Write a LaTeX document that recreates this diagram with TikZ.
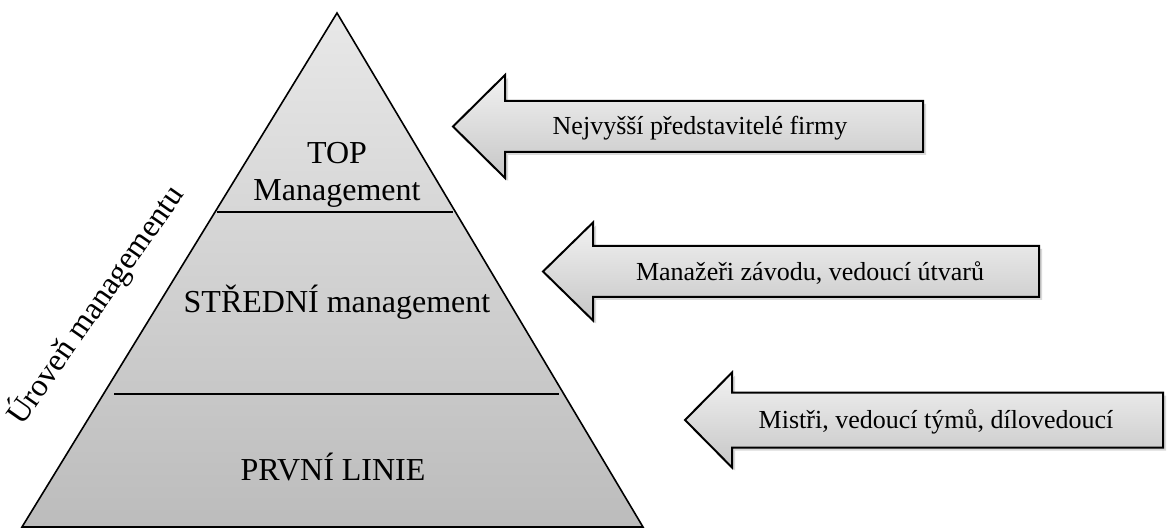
\documentclass[tikz,border=0pt]{standalone}
\usepackage{fontspec}
\setmainfont{Liberation Serif}
\usetikzlibrary{shadows}

\definecolor{pyrtop}{RGB}{232,232,232}
\definecolor{pyrbottom}{RGB}{188,188,188}
\definecolor{arrtop}{RGB}{242,242,242}
\definecolor{arrbottom}{RGB}{198,198,198}

\begin{document}
\begin{tikzpicture}[x=0.5pt, y=-0.5pt,
  level/.style={font=\fontsize{16}{18.5}\selectfont, align=center},
  pointer/.style={draw, line width=1pt, line join=miter, top color=arrtop, bottom color=arrbottom,
    drop shadow={shadow xshift=1.5pt, shadow yshift=-1.5pt, opacity=0.3}},
  pointertext/.style={font=\fontsize{13}{15}\selectfont, anchor=base}]

\useasboundingbox (0,0) rectangle (1167,529);

% Pyramid corners
\coordinate (apex) at (337, 13);
\coordinate (baseleft) at (22, 527);
\coordinate (baseright) at (643, 527);

\fill[top color=pyrtop, bottom color=pyrbottom] (apex) -- (baseleft) -- (baseright) -- cycle;
\draw[line width=0.8pt] (apex) -- (baseleft) -- (baseright) -- cycle;

% Level borders
\coordinate (topleft) at (217, 212);
\coordinate (topright) at (453, 212);
\coordinate (midleft) at (114, 394);
\coordinate (midright) at (559, 394);
\draw[line width=0.8pt] (topleft) -- (topright);
\draw[line width=0.8pt] (midleft) -- (midright);

% Level names
\node[level] (top) at (337, 175) {TOP\\Management};
\node[level] (middle) at (337, 302) {STŘEDNÍ management};
\node[level] (first) at (333, 467) {PRVNÍ LINIE};

% Axis label
\node[level, rotate=55] (axis) at (95, 305) {Úroveň managementu};

% Pointers
\foreach \tx/\hx/\rx/\cy/\hh/\sh in {453/505/923/126.5/51.5/25.5,
                                     543/593/1039/271.5/49/25.5,
                                     685/732/1163/420/47.5/27.5} {
  \path[pointer] (\tx, \cy) -- (\hx, \cy-\hh) -- (\hx, \cy-\sh) -- (\rx, \cy-\sh)
    -- (\rx, \cy+\sh) -- (\hx, \cy+\sh) -- (\hx, \cy+\hh) -- cycle;
}

\node[pointertext] (pointera) at (700, 135) {Nejvyšší představitelé firmy};
\node[pointertext] (pointerb) at (810, 281) {Manažeři závodu, vedoucí útvarů};
\node[pointertext] (pointerc) at (936, 428) {Mistři, vedoucí týmů, dílovedoucí};

\end{tikzpicture}
\end{document}
